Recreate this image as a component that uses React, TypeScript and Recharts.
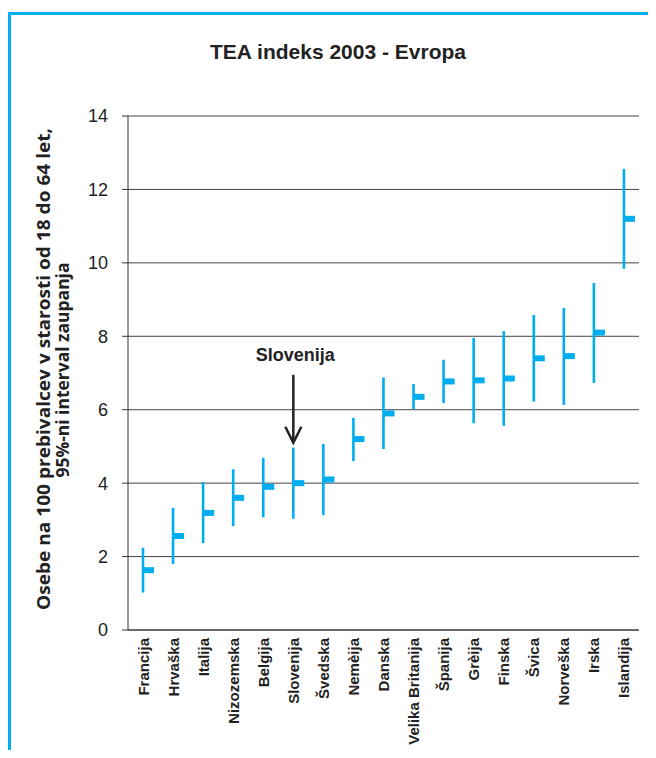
import React from 'react';
import { ComposedChart, Bar, Scatter, XAxis, YAxis, CartesianGrid, ReferenceLine } from 'recharts';

const categories = [
  'Francija', 'Hrvaška', 'Italija', 'Nizozemska', 'Belgija', 'Slovenija', 'Švedska', 'Nemèija',
  'Danska', 'Velika Britanija', 'Španija', 'Grèija', 'Finska', 'Švica', 'Norveška', 'Irska', 'Islandija',
];
const lowValues = [1.02, 1.8, 2.37, 2.83, 3.07, 3.03, 3.13, 4.6, 4.93, 6.02, 6.18, 5.63, 5.56, 6.22, 6.13, 6.73, 9.84];
const highValues = [2.24, 3.33, 4.03, 4.38, 4.69, 4.97, 5.07, 5.78, 6.88, 6.7, 7.36, 7.96, 8.14, 8.58, 8.77, 9.45, 12.56];
const meanValues = [1.63, 2.56, 3.19, 3.6, 3.9, 4.0, 4.1, 5.2, 5.9, 6.35, 6.77, 6.8, 6.85, 7.4, 7.46, 8.1, 11.2];
const yTicks = [0, 2, 4, 6, 8, 10, 12, 14];
const boundaryTicks = [0, 1, 2, 3, 4, 5, 6, 7, 8, 9, 10, 11, 12, 13, 14, 15, 16, 17];
const highlightCategory = 'Slovenija';
const arrowFrom = 6.95;
const arrowTo = 5.1;

const title = 'TEA indeks 2003 - Evropa';
const yLabel1 = 'Osebe na 100 prebivalcev v starosti od 18 do 64 let,';
const yLabel2 = '95%-ni interval zaupanja';

const data = categories.map((name, i) => ({
  name,
  range: [lowValues[i], highValues[i]],
  mean: meanValues[i],
}));

const BLUE = '#00AEEF';
const GRID = '#444';

const RangeLine = (props: any) => {
  const { x, y, width, height } = props;
  const cx = x + width / 2;
  const top = Math.min(y, y + height);
  const bottom = Math.max(y, y + height);
  return <line x1={cx} x2={cx} y1={top} y2={bottom} stroke={BLUE} strokeWidth={2.6} />;
};

const MeanMark = (props: any) => {
  const { cx, cy } = props;
  return <rect x={cx} y={cy - 3} width={11} height={6} fill={BLUE} />;
};

const CatTick = (props: any) => {
  const { x, y, payload } = props;
  return (
    <text
      x={x}
      y={y}
      transform={`rotate(-90, ${x}, ${y})`}
      textAnchor="end"
      dominantBaseline="central"
      fontFamily="'Liberation Sans', Arial, sans-serif"
      fontWeight="bold"
      fontSize={15}
      fill="#222"
    >
      {payload.value}
    </text>
  );
};

const YLabel = () => (
  <g>
    <text
      x={35}
      y={361}
      transform="rotate(-90, 35, 361)"
      textAnchor="middle"
      dominantBaseline="central"
      fontFamily="'Open Sans', sans-serif"
      fontWeight="bold"
      fontSize={17.5}
      textLength={482}
      lengthAdjust="spacingAndGlyphs"
      fill="#222"
    >
      {yLabel1}
    </text>
    <text
      x={54}
      y={362}
      transform="rotate(-90, 54, 362)"
      textAnchor="middle"
      dominantBaseline="central"
      fontFamily="'Open Sans', sans-serif"
      fontWeight="bold"
      fontSize={17.5}
      textLength={215}
      lengthAdjust="spacingAndGlyphs"
      fill="#222"
    >
      {yLabel2}
    </text>
  </g>
);

const Arrow = (props: any) => {
  const { x1, y1, y2 } = props;
  const x = x1;
  const top = Math.min(y1, y2);
  const tip = Math.max(y1, y2);
  return (
    <g>
      <text
        x={x + 2}
        y={top - 20}
        textAnchor="middle"
        dominantBaseline="central"
        fontFamily="'Liberation Sans', Arial, sans-serif"
        fontWeight="bold"
        fontSize={18}
        fill="#222"
      >
        {highlightCategory}
      </text>
      <line x1={x} x2={x} y1={top} y2={tip - 1} stroke="#222" strokeWidth={2.5} />
      <polyline
        points={`${x - 8},${tip - 16} ${x},${tip} ${x + 8},${tip - 16}`}
        fill="none"
        stroke="#222"
        strokeWidth={2.5}
      />
    </g>
  );
};

export default function App() {
  return (
    <div style={{ position: 'relative', width: 648, height: 742, overflow: 'hidden' }}>
      <style>{'html, body { overflow: hidden; }'}</style>
      <div
        style={{
          position: 'absolute',
          left: 0,
          top: 4,
          width: 648,
          height: 760,
          borderTop: `3px solid ${BLUE}`,
          borderLeft: `3px solid ${BLUE}`,
          boxSizing: 'border-box',
        }}
      />
      <div
        style={{
          position: 'absolute',
          left: 0,
          top: 32,
          width: 660,
          textAlign: 'center',
          fontFamily: "'Liberation Sans', Arial, sans-serif",
          fontWeight: 'bold',
          fontSize: 21,
          color: '#222',
        }}
      >
        {title}
      </div>
      <div style={{ position: 'absolute', left: 0, top: 0 }}>
        <ComposedChart
          width={648}
          height={742}
          data={data}
          margin={{ top: 108, right: 17, bottom: 0, left: 0 }}
        >
          <CartesianGrid
            xAxisId="bnd"
            yAxisId="y"
            vertical={false}
            stroke={GRID}
            strokeWidth={1}
          />
          <XAxis
            xAxisId="bnd"
            type="number"
            domain={[0, 17]}
            ticks={boundaryTicks}
            tick={false}
            height={1}
            tickSize={6}
            axisLine={{ stroke: '#333' }}
            tickLine={{ stroke: '#333' }}
            allowDataOverflow
          />
          <XAxis
            xAxisId="cat"
            dataKey="name"
            type="category"
            interval={0}
            height={119}
            axisLine={false}
            tickLine={false}
            tickSize={0}
            tickMargin={7}
            tick={<CatTick />}
          />
          <YAxis
            yAxisId="y"
            type="number"
            domain={[0, 14]}
            ticks={yTicks}
            width={120}
            tickSize={6}
            tickMargin={14}
            axisLine={{ stroke: '#333' }}
            tickLine={{ stroke: '#333' }}
            tick={{ fontSize: 18, fill: '#222', fontFamily: "'Liberation Sans', Arial, sans-serif" }}
            label={{ content: () => <YLabel /> }}
          />
          <ReferenceLine xAxisId="bnd" yAxisId="y" x={17} stroke={GRID} strokeWidth={1.5} />
          <Bar
            xAxisId="cat"
            yAxisId="y"
            dataKey="range"
            barSize={4}
            shape={<RangeLine />}
            isAnimationActive={false}
          />
          <Scatter
            xAxisId="cat"
            yAxisId="y"
            dataKey="mean"
            shape={<MeanMark />}
            isAnimationActive={false}
          />
          <ReferenceLine
            xAxisId="cat"
            yAxisId="y"
            segment={[
              { x: highlightCategory, y: arrowFrom },
              { x: highlightCategory, y: arrowTo },
            ]}
            shape={<Arrow />}
          />
        </ComposedChart>
      </div>
    </div>
  );
}
